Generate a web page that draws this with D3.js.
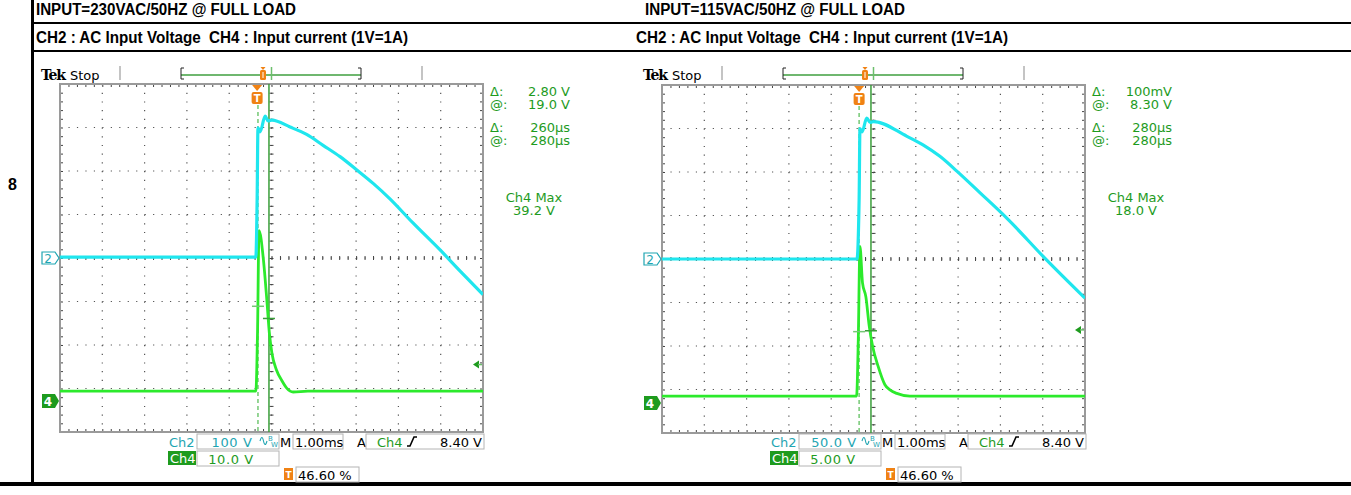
<!DOCTYPE html>
<html>
<head>
<meta charset="utf-8">
<script src="https://cdn.jsdelivr.net/npm/d3@7/dist/d3.min.js"></script>
<style>
  body { margin: 0; background: #fff; }
  svg { display: block; }
  text { font-family: "DejaVu Sans", sans-serif; }
</style>
</head>
<body>
<script>
/*---------------------------
---------------------------*/
var rowLabel = "8";
var conditionTitles = ["INPUT=230VAC/50HZ @ FULL LOAD", "INPUT=115VAC/50HZ @ FULL LOAD"];
var channelNote = "CH2 : AC Input Voltage  CH4 : Input current (1V=1A)";

// [time from trigger in ms, volts]
var ch2At230 = [[-4.66, 2], [-2.5, 2], [-0.03, 2], [0.0, 133], [0.02, 299], [0.07, 290], [0.19, 326],
                [0.26, 315], [0.35, 317], [0.78, 301], [1.17, 284], [1.56, 259], [1.96, 233], [2.35, 203],
                [2.75, 171], [3.14, 136], [3.69, 80], [4.32, 19], [4.80, -30], [5.34, -84]];
var ch4At230 = [[-4.66, 2.3], [-0.03, 2.3], [0.01, 16], [0.045, 39.2], [0.15, 32.4], [0.23, 23.2],
                [0.29, 15.6], [0.35, 11.0], [0.46, 7.1], [0.58, 4.8], [0.70, 3.0], [0.85, 2.1],
                [1.2, 2.3], [5.34, 2.3]];
var ch2At115 = [[-4.66, 0], [-0.05, 0], [0.0, 68], [0.02, 150], [0.07, 146], [0.18, 162], [0.26, 157],
                [0.34, 158], [1.13, 141], [1.52, 131], [1.91, 118], [2.31, 101], [2.86, 76], [3.49, 47],
                [4.43, -1], [5.34, -45]];
var ch4At115 = [[-4.66, 0.8], [-0.06, 0.8], [-0.02, 7.2], [0.02, 18.0], [0.08, 13.8], [0.16, 12.2],
                [0.24, 8.8], [0.32, 6.5], [0.45, 4.2], [0.61, 2.1], [0.73, 1.5], [0.89, 1.1],
                [1.2, 0.8], [5.34, 0.8]];

var ch2Traces = [ch2At230, ch2At115];
var ch4Traces = [ch4At230, ch4At115];

var ch2VoltsPerDiv = [100, 50];
var ch4VoltsPerDiv = [10, 5];
var ch4GroundDiv = [-3.29, -3.31];
var triggerPercent = [46.6, 46.6];
var triggerLevel = [8.4, 8.4];
var cursorTimes = [[0.02, 0.28], [0.0, 0.28]];   // ms, dashed / solid
var cursorVolts = [[21.8, 19.0], [8.2, 8.3]];    // ch4 volts at the cursor crossings

var ch2Labels = ["100 V", "50.0 V"];
var ch4Labels = ["10.0 V", "5.00 V"];
var timeLabels = ["1.00ms", "1.00ms"];
var trigLabels = ["8.40 V", "8.40 V"];
var posLabels = ["46.60 %", "46.60 %"];
var cursorReadouts = [["2.80 V", "19.0 V", "260\u00b5s", "280\u00b5s"],
                      ["100mV", "8.30 V", "280\u00b5s", "280\u00b5s"]];
var maxReadouts = ["39.2 V", "18.0 V"];

/*---------------------------
 PAGE FRAME
---------------------------*/
var svg = d3.select("body").append("svg")
            .attr("width", 1351)
            .attr("height", 495);

svg.append("rect").attr("x", 31).attr("y", 0).attr("width", 3).attr("height", 486).attr("fill", "#000");
svg.append("rect").attr("x", 31).attr("y", 22).attr("width", 1320).attr("height", 2).attr("fill", "#000");
svg.append("rect").attr("x", 31).attr("y", 50).attr("width", 1320).attr("height", 2).attr("fill", "#000");
svg.append("rect").attr("x", 0).attr("y", 482).attr("width", 1351).attr("height", 4).attr("fill", "#000");

svg.append("text").attr("x", 8).attr("y", 190)
   .style("font-family", "Liberation Sans, Arial, sans-serif")
   .style("font-weight", "bold").style("font-size", "16px")
   .text(rowLabel);

var titleX = [36, 645], noteX = [36, 636];
conditionTitles.forEach(function(t, i) {
  svg.append("text").attr("x", titleX[i]).attr("y", 15)
     .attr("textLength", 260).attr("lengthAdjust", "spacingAndGlyphs")
     .style("font-family", "Liberation Sans, Arial, sans-serif")
     .style("font-weight", "bold").style("font-size", "16px")
     .text(t);
  svg.append("text").attr("x", noteX[i]).attr("y", 43)
     .attr("textLength", 372).attr("lengthAdjust", "spacingAndGlyphs")
     .style("font-family", "Liberation Sans, Arial, sans-serif")
     .style("font-weight", "bold").style("font-size", "16px")
     .style("white-space", "pre")
     .text(channelNote);
});

/*---------------------------
 ONE SCOPE SCREEN
---------------------------*/
var scopeLeft = [60, 662];
var scopeTop = [84, 85];
var W = 423, H = 348;

var cyan = "#1fe6ee", cyanText = "#1ea5b2";
var lime = "#2cea2c", dkGreen = "#1e9b1e";
var orange = "#f08214";

function drawScope(i) {
  var gx = scopeLeft[i], gy = scopeTop[i];
  var g = svg.append("g").attr("transform", "translate(" + gx + "," + gy + ")");

  var tpre = triggerPercent[i] / 10;
  var x = d3.scaleLinear().domain([-tpre, 10 - tpre]).range([0, W]);   // 1 ms / div
  var xDiv = d3.scaleLinear().domain([0, 10]).range([0, W]);
  var yDiv = d3.scaleLinear().domain([-4, 4]).range([H, 0]);
  var y2 = function(v) { return yDiv(v / ch2VoltsPerDiv[i]); };
  var y4 = function(v) { return yDiv(v / ch4VoltsPerDiv[i] + ch4GroundDiv[i]); };

  // dotted division lines
  var sx = W / 50, sy = H / 40;
  g.selectAll("line.vgrid").data(d3.range(1, 10)).enter().append("line")
   .attr("x1", function(d) { return xDiv(d); }).attr("x2", function(d) { return xDiv(d); })
   .attr("y1", 0).attr("y2", H)
   .attr("stroke", "#555").attr("stroke-width", 1.2)
   .attr("stroke-dasharray", "1.2," + (sy - 1.2));
  g.selectAll("line.hgrid").data(d3.range(-3, 4)).enter().append("line")
   .attr("y1", function(d) { return yDiv(d); }).attr("y2", function(d) { return yDiv(d); })
   .attr("x1", 0).attr("x2", W)
   .attr("stroke", "#555").attr("stroke-width", 1.2)
   .attr("stroke-dasharray", "1.2," + (sx - 1.2));

  // minor ticks on the centre lines and border, through d3 axes
  var xTicks = d3.range(0, 50.5).map(function(k) { return k / 5; });
  var yTicks = d3.range(0, 40.5).map(function(k) { return -4 + k / 5; });
  function clean(sel) {
    sel.select(".domain").remove();
    sel.selectAll("text").remove();
    sel.selectAll("line").attr("stroke", "#444");
  }
  g.append("g").attr("transform", "translate(0," + (H / 2 - 2) + ")")
   .call(d3.axisBottom(xDiv).tickValues(xTicks).tickSize(4)).call(clean);
  g.append("g").attr("transform", "translate(" + (W / 2 - 2) + ",0)")
   .call(d3.axisRight(yDiv).tickValues(yTicks).tickSize(4)).call(clean);
  g.append("g").call(d3.axisBottom(xDiv).tickValues(xTicks).tickSize(3)).call(clean);
  g.append("g").attr("transform", "translate(0," + H + ")")
   .call(d3.axisTop(xDiv).tickValues(xTicks).tickSize(3)).call(clean);
  g.append("g").call(d3.axisRight(yDiv).tickValues(yTicks).tickSize(3)).call(clean);
  g.append("g").attr("transform", "translate(" + W + ",0)")
   .call(d3.axisLeft(yDiv).tickValues(yTicks).tickSize(3)).call(clean);

  g.append("rect").attr("x", 0).attr("y", 0).attr("width", W).attr("height", H)
   .attr("fill", "none").attr("stroke", "#9a9a9a").attr("stroke-width", 2);

  // cursors
  var c0 = x(cursorTimes[i][0]), c1 = x(cursorTimes[i][1]);
  g.append("line").attr("x1", c0).attr("x2", c0).attr("y1", 14).attr("y2", H)
   .attr("stroke", "#74c874").attr("stroke-width", 1.5).attr("stroke-dasharray", "4,3");
  g.append("line").attr("x1", c1).attr("x2", c1).attr("y1", 0).attr("y2", H)
   .attr("stroke", "#3a9e3a").attr("stroke-width", 1.5);

  // traces
  g.append("clipPath").attr("id", "clip" + i).append("rect")
   .attr("width", W).attr("height", H);
  var plot = g.append("g").attr("clip-path", "url(#clip" + i + ")");
  var line2 = d3.line().curve(d3.curveMonotoneX)
                .x(function(d) { return x(d[0]); }).y(function(d) { return y2(d[1]); });
  var line4 = d3.line().curve(d3.curveMonotoneX)
                .x(function(d) { return x(d[0]); }).y(function(d) { return y4(d[1]); });
  plot.append("path").datum(ch4Traces[i]).attr("d", line4)
      .attr("fill", "none").attr("stroke", lime).attr("stroke-width", 2.8)
      .attr("stroke-linejoin", "round");
  plot.append("path").datum(ch2Traces[i]).attr("d", line2)
      .attr("fill", "none").attr("stroke", cyan).attr("stroke-width", 3.2)
      .attr("stroke-linejoin", "round");

  // cursor crossings
  g.append("line").attr("x1", c0 - 6).attr("x2", c0 + 6)
   .attr("y1", y4(cursorVolts[i][0])).attr("y2", y4(cursorVolts[i][0]))
   .attr("stroke", "#74c874").attr("stroke-width", 1.5);
  g.append("line").attr("x1", c1 - 6).attr("x2", c1 + 6)
   .attr("y1", y4(cursorVolts[i][1])).attr("y2", y4(cursorVolts[i][1]))
   .attr("stroke", "#3a9e3a").attr("stroke-width", 1.5);

  // trigger level arrow
  var ty = y4(triggerLevel[i]);
  g.append("path").attr("d", "M" + (W - 10) + "," + ty + "l6,-4v8z").attr("fill", dkGreen);
  g.append("line").attr("x1", W - 5).attr("x2", W - 1).attr("y1", ty).attr("y2", ty)
   .attr("stroke", "#6cbf6c").attr("stroke-width", 1.5);

  // trigger position "T"
  var tx = x(0);
  g.append("path").attr("d", "M" + (tx - 5) + ",1h10l-5,6z").attr("fill", orange);
  g.append("rect").attr("x", tx - 5.5).attr("y", 8).attr("width", 11).attr("height", 12)
   .attr("rx", 2).attr("fill", orange);
  g.append("text").attr("x", tx).attr("y", 18).attr("text-anchor", "middle")
   .style("font-size", "10px").style("font-weight", "bold").attr("fill", "#fff").text("T");

  // channel ground markers
  var m2 = yDiv(0), m4 = yDiv(ch4GroundDiv[i]);
  g.append("path").attr("d", "M-18," + (m2 - 6) + "h13l4,6l-4,6h-13z")
   .attr("fill", "#fff").attr("stroke", cyanText).attr("stroke-width", 1.2);
  g.append("text").attr("x", -12).attr("y", m2 + 5).attr("text-anchor", "middle")
   .style("font-size", "12px").attr("fill", cyanText).text("2");
  g.append("path").attr("d", "M-18," + (m4 - 7) + "h13l4,7l-4,7h-13z").attr("fill", dkGreen);
  g.append("text").attr("x", -12).attr("y", m4 + 5).attr("text-anchor", "middle")
   .style("font-size", "12px").style("font-weight", "bold").attr("fill", "#fff").text("4");

  // header strip above the screen
  svg.append("text").attr("x", gx - 19).attr("y", 80)
     .style("font-family", "DejaVu Serif, serif").style("font-weight", "bold")
     .style("font-size", "14px").attr("textLength", 25).text("Tek");
  svg.append("text").attr("x", gx + 10).attr("y", 80).style("font-size", "13px").text("Stop");
  [60, 362].forEach(function(d) {
    svg.append("line").attr("x1", gx + d).attr("x2", gx + d).attr("y1", 66).attr("y2", 80)
       .attr("stroke", "#c4c4c4").attr("stroke-width", 2);
  });
  svg.append("line").attr("x1", gx + 121).attr("x2", gx + 301).attr("y1", 75).attr("y2", 75)
     .attr("stroke", "#3f9f3f").attr("stroke-width", 1.5);
  svg.append("path").attr("d", "M" + (gx + 124) + ",68h-3v11h3M" + (gx + 298) + ",68h3v11h-3")
     .attr("fill", "none").attr("stroke", "#222").attr("stroke-width", 1);
  svg.append("path").attr("d", "M" + (gx + 200.5) + ",67h5l-2.5,3z").attr("fill", orange);
  svg.append("rect").attr("x", gx + 200).attr("y", 70).attr("width", 6).attr("height", 10)
     .attr("rx", 1.5).attr("fill", orange);
  svg.append("line").attr("x1", gx + 203).attr("x2", gx + 203).attr("y1", 72).attr("y2", 78)
     .attr("stroke", "#fff").attr("stroke-width", 1);
  svg.append("line").attr("x1", gx + 211.5).attr("x2", gx + 211.5).attr("y1", 67).attr("y2", 80)
     .attr("stroke", "#6cbf6c").attr("stroke-width", 1.5);

  // cursor readouts right of the screen
  var rows = [96, 109, 132, 145], keys = ["\u0394:", "@:", "\u0394:", "@:"];
  rows.forEach(function(ry, k) {
    svg.append("text").attr("x", gx + 430).attr("y", ry).style("font-size", "13px")
       .attr("fill", dkGreen).text(keys[k]);
    svg.append("text").attr("x", gx + 510).attr("y", ry).attr("text-anchor", "end")
       .style("font-size", "13px").attr("fill", dkGreen).text(cursorReadouts[i][k]);
  });
  svg.append("text").attr("x", gx + 474).attr("y", 202).attr("text-anchor", "middle")
     .style("font-size", "13px").attr("fill", dkGreen).text("Ch4 Max");
  svg.append("text").attr("x", gx + 474).attr("y", 215).attr("text-anchor", "middle")
     .style("font-size", "13px").attr("fill", dkGreen).text(maxReadouts[i]);

  // settings readout under the screen
  function box(bx, by, bw, bh) {
    svg.append("rect").attr("x", gx + bx).attr("y", by).attr("width", bw).attr("height", bh)
       .attr("fill", "#fff").attr("stroke", "#b4b4b4").attr("stroke-width", 1);
  }
  function label(lx, ly, s, col, anchor) {
    return svg.append("text").attr("x", gx + lx).attr("y", ly).attr("text-anchor", anchor || "start")
       .style("font-size", "13px").attr("fill", col).text(s);
  }
  label(109, 447, "Ch2", cyanText);
  box(137, 434, 82, 15);
  label(172, 447, ch2Labels[i], cyanText, "middle").style("letter-spacing", "0.6px");
  svg.append("path").attr("d", "M" + (gx + 200) + ",441q2,-7 3.5,0t3.5,0")
     .attr("fill", "none").attr("stroke", cyanText).attr("stroke-width", 1.1);
  svg.append("text").attr("x", gx + 208).attr("y", 441).style("font-size", "7px")
     .attr("fill", cyanText).text("B");
  svg.append("text").attr("x", gx + 211).attr("y", 447).style("font-size", "7px")
     .attr("fill", cyanText).text("W");
  label(220, 447, "M", "#000");
  box(233, 434, 50, 15);
  label(235, 447, timeLabels[i], "#000");
  label(297, 447, "A", "#000");
  box(306, 434, 118, 15);
  label(317, 447, "Ch4", dkGreen);
  svg.append("path").attr("d", "M" + (gx + 347) + ",446h3l4,-9h3")
     .attr("fill", "none").attr("stroke", "#000").attr("stroke-width", 1.6);
  label(422, 447, trigLabels[i], "#000", "end");

  svg.append("rect").attr("x", gx + 108).attr("y", 451).attr("width", 28).attr("height", 14)
     .attr("fill", dkGreen);
  label(110, 463, "Ch4", "#fff");
  box(137, 451, 82, 15);
  label(171, 464, ch4Labels[i], dkGreen, "middle").style("letter-spacing", "0.6px");

  svg.append("rect").attr("x", gx + 224).attr("y", 468).attr("width", 9).attr("height", 12)
     .attr("fill", orange);
  svg.append("text").attr("x", gx + 228.5).attr("y", 478).attr("text-anchor", "middle")
     .style("font-size", "9px").style("font-weight", "bold").attr("fill", "#fff").text("T");
  box(236, 467, 63, 15);
  label(238, 480, posLabels[i], "#000");
}

drawScope(0);
drawScope(1);
</script>
</body>
</html>
